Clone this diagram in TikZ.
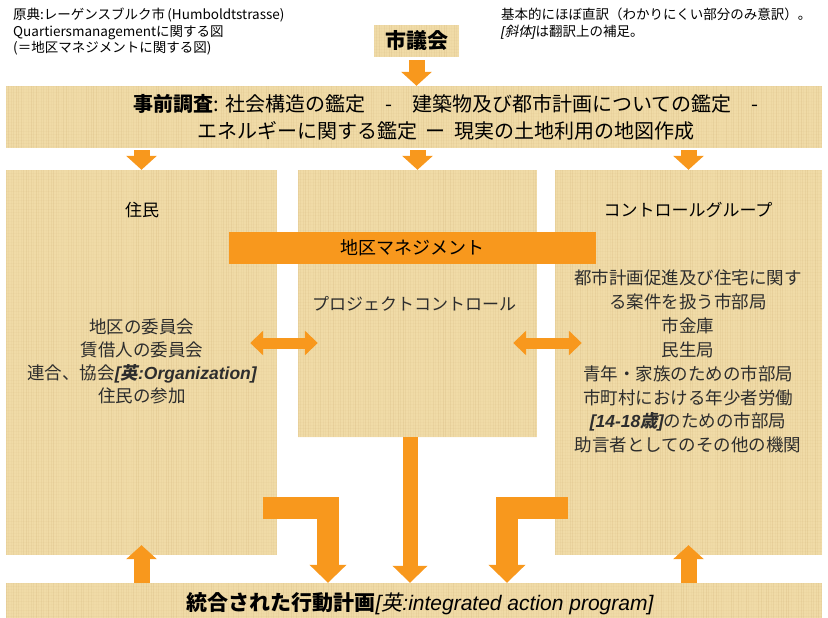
\documentclass[tikz,border=0pt]{standalone}
\usepackage{fontspec}
\setmainfont{Noto Sans CJK JP}
\newfontfamily\jpslant[FakeSlant=0.2]{Noto Sans CJK JP}
\newfontfamily\latfont{Liberation Sans}
\usetikzlibrary{arrows.meta}

\definecolor{papyrus}{RGB}{240,219,167}
\definecolor{papyrusdark}{RGB}{196,160,100}
\definecolor{fatorange}{RGB}{248,152,29}
\definecolor{inkgray}{RGB}{45,45,45}

\newcommand{\engnote}[1]{{\latfont\itshape[}{\jpslant 英}{\latfont\itshape :#1]}}

\begin{document}
\begin{tikzpicture}[x=1pt, y=-1pt, line cap=butt, line join=miter,
    paper/.style={fill=papyrus, inner sep=0pt,
      path picture={
        \foreach \i in {0,2.5,...,816}{
          \pgfmathsetmacro\op{0.03+0.15*rnd}
          \draw[papyrusdark, line width=0.6pt, opacity=\op]
            ([xshift=\i pt]path picture bounding box.north west)
            -- ([xshift=\i pt]path picture bounding box.south west);}
        \foreach \j in {0,3,...,388}{
          \pgfmathsetmacro\op{0.02+0.05*rnd}
          \draw[papyrusdark, line width=0.5pt, opacity=\op]
            ([yshift=-\j pt]path picture bounding box.north west)
            -- ([yshift=-\j pt]path picture bounding box.north east);}}},
    fatarrow/.style={draw=fatorange, line width=16pt, -{Triangle[width=30pt, length=14pt]}},
    dblarrow/.style={draw=fatorange, line width=11pt,
      {Triangle[width=24pt, length=13pt]}-{Triangle[width=24pt, length=13pt]}},
    bigarrow/.style={draw=fatorange, line width=15pt, -{Triangle[width=34pt, length=17pt]}},
    elbowarrow/.style={draw=fatorange, line width=22pt, -{Triangle[width=36pt, length=18pt]}},
    note/.style={font=\fontsize{13.5pt}{16.5pt}\selectfont, align=left,
      anchor=north west, inner sep=0pt},
    heading/.style={font=\fontsize{17pt}{20pt}\selectfont},
    listtext/.style={font=\fontsize{17.5pt}{23pt}\selectfont, text=inkgray, align=center}]
  \useasboundingbox (0,0) rectangle (828,618);

  % Notes in the corners
  \node[note] (source) at (13,8)
    {原典:レーゲンスブルク市\,(Humboldtstrasse)\\
     Quartiersmanagementに関する図\\
     (＝地区マネジメントに関する図)};
  \node[note] (remark) at (501,8)
    {基本的にほぼ直訳（わかりにくい部分のみ意訳）。\\
     {\latfont\itshape[}{\jpslant 斜体}{\latfont\itshape]}は翻訳上の補足。};

  % Boxes
  \node[paper, minimum width=85pt, minimum height=32pt,
        font=\bfseries\fontsize{21pt}{24pt}\selectfont] (council) at (416.5,41) {市議会};
  \node[paper, minimum width=816pt, minimum height=62pt] (prep) at (414,117) {};
  \node[paper, minimum width=271pt, minimum height=385pt] (res) at (141.5,362.5) {};
  \node[paper, minimum width=239pt, minimum height=267pt] (pc) at (417.5,303.5) {};
  \node[paper, minimum width=267pt, minimum height=385pt] (cg) at (688.5,362.5) {};
  \node[paper, minimum width=816pt, minimum height=44pt] (plan) at (414,605) {};
  \node[fill=fatorange, minimum width=367pt, minimum height=32pt, inner sep=0pt,
        font=\fontsize{18pt}{20pt}\selectfont] (mgmt) at (412.5,248) {地区マネジメント};

  % Texts in the boxes
  \node[align=center, font=\fontsize{20pt}{27pt}\selectfont] (preptext) at (446,117)
    {{\bfseries 事前調査}: 社会構造の鑑定\quad-\quad 建築物及び都市計画についての鑑定\quad-\\
     エネルギーに関する鑑定\ \ ー\ \ 現実の土地利用の地図作成};
  \node[heading] (restitle) at (142,210) {住民};
  \node[listtext] (reslist) at (142,361.5)
    {地区の委員会\\ 賃借人の委員会\\
     連合、協会{\latfont\bfseries\itshape[}{\jpslant\bfseries 英}{\latfont\bfseries\itshape :Organization]}\\
     住民の参加};
  \node[heading, text=inkgray] (pctext) at (414,304) {プロジェクトコントロール};
  \node[heading] (cgtitle) at (688,210) {コントロールグループ};
  \node[listtext, font=\fontsize{17.5pt}{23.9pt}\selectfont] (cglist) at (688,361.5)
    {都市計画促進及び住宅に関す\\ る案件を扱う市部局\\ 市金庫\\ 民生局\\
     青年・家族のための市部局\\ 市町村における年少者労働\\
     {\latfont\bfseries\itshape[14-18}{\jpslant\bfseries 歳}{\latfont\bfseries\itshape]}のための市部局\\
     助言者としてのその他の機関};
  \node[font=\fontsize{21pt}{24pt}\selectfont] (plantext) at (420,604)
    {{\bfseries 統合された行動計画}\engnote{integrated action program}};

  % Arrows down from the council and the survey
  \draw[fatarrow] ([yshift=-3pt]council.south) -- (prep.north -| council.south);
  \foreach \b in {res, pc, cg}
    \draw[fatarrow] ([yshift=-2pt]prep.south -| \b.north) -- (\b.north);

  % Exchange between the groups
  \draw[dblarrow] ([xshift=-27pt, yshift=19.5pt]res.east) -- ([xshift=20pt, yshift=-39.5pt]pc.west);
  \draw[dblarrow] ([xshift=-24pt, yshift=-39.5pt]pc.east) -- ([xshift=27pt, yshift=19.5pt]cg.west);

  % Into the action program
  \draw[bigarrow] ([xshift=-7.5pt]pc.south) -- ([xshift=-7.5pt]pc.south |- plan.north);
  \draw[elbowarrow] ([xshift=-14pt, yshift=-145.5pt]res.east) -| ([xshift=-86pt]plan.north);
  \draw[elbowarrow] ([xshift=13pt, yshift=-145.5pt]cg.west) -| ([xshift=93pt]plan.north);

  % Feedback up to the residents and the control group
  \draw[fatarrow] (plan.north -| res.south) -- ([yshift=10pt]res.south);
  \draw[fatarrow] (plan.north -| cg.south) -- ([yshift=10pt]cg.south);
\end{tikzpicture}
\end{document}
